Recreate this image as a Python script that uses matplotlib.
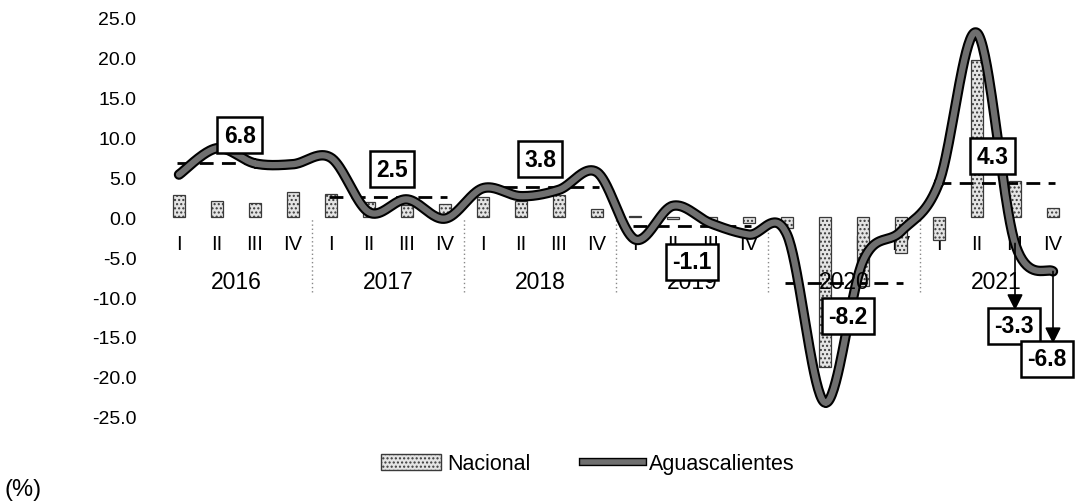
import numpy as np
import matplotlib
matplotlib.use('Agg')
import matplotlib.pyplot as plt
import matplotlib.patheffects as pe
from matplotlib.patches import Patch
from matplotlib.lines import Line2D

plt.rcParams['font.family'] = ['Liberation Sans', 'DejaVu Sans']
plt.rcParams['axes.unicode_minus'] = False
plt.rcParams['hatch.color'] = '#9a9a9a'

years = ['2016', '2017', '2018', '2019', '2020', '2021']
quarters = ['I', 'II', 'III', 'IV']
nacional = [2.8, 2.0, 1.7, 3.1,
            2.9, 1.9, 1.5, 1.6,
            2.5, 2.0, 2.8, 1.0,
            0.1, -0.3, -0.4, -0.7,
            -1.4, -18.7, -8.6, -4.5,
            -2.9, 19.6, 4.5, 1.1]
aguascalientes = [5.3, 8.6, 6.7, 6.6,
                  7.4, 0.6, 2.2, -0.2,
                  3.6, 2.6, 3.4, 5.6,
                  -2.8, 1.4, -0.8, -2.2,
                  -2.2, -23.2, -5.5, -1.8,
                  4.3, 23.0, -3.3, -6.8]
promedio_anual = [6.8, 2.5, 3.8, -1.1, -8.2, 4.3]
yticks = [25, 20, 15, 10, 5, 0, -5, -10, -15, -20, -25]


def smooth(x, y, n=40):
    # Catmull-Rom, like Excel's smoothed line
    p = np.column_stack([x, y]).astype(float)
    p = np.vstack([p[0], p, p[-1]])
    out = []
    for i in range(1, len(p) - 2):
        p0, p1, p2, p3 = p[i - 1], p[i], p[i + 1], p[i + 2]
        t = np.linspace(0, 1, n)[:, None]
        seg = 0.5 * ((2 * p1) + (-p0 + p2) * t +
                     (2 * p0 - 5 * p1 + 4 * p2 - p3) * t ** 2 +
                     (-p0 + 3 * p1 - 3 * p2 + p3) * t ** 3)
        out.append(seg)
    out = np.vstack(out)
    return out[:, 0], out[:, 1]


x = np.arange(len(nacional))

fig = plt.figure(figsize=(10.75, 5.02), dpi=100)
ax = fig.add_axes([160 / 1075, 1 - 418 / 502, (1072 - 160) / 1075, 400 / 502])

ax.bar(x, nacional, width=0.32, color='#e4e4e4', edgecolor='#3a3a3a',
       linewidth=0.9, hatch='....', zorder=2)

for k, v in enumerate(promedio_anual):
    ax.hlines(v, 4 * k - 0.05, 4 * k + 3.05, colors='black', linewidth=2,
              linestyles=(0, (5, 3)), zorder=3)

xs, ys = smooth(x, aguascalientes)
ax.plot(xs, ys, color='#6f6f6f', linewidth=4.5, solid_capstyle='round', zorder=4,
        path_effects=[pe.Stroke(linewidth=7.5, foreground='black'), pe.Normal()])

# year separators
for k in range(1, len(years)):
    ax.vlines(4 * k - 0.5, -9.4, 0, colors='#888888', linewidth=1,
              linestyles=(0, (1, 2)), zorder=1)

ax.set_xlim(-0.5, 23.5)
ax.set_ylim(-25, 25)
ax.set_yticks(yticks)
ax.set_yticklabels(['%.1f' % v for v in yticks])
ax.tick_params(axis='y', length=0, pad=17, labelsize=14)
ax.set_xticks(x)
ax.set_xticklabels(quarters * len(years))
ax.spines['bottom'].set_position(('data', 0))
for s in ax.spines.values():
    s.set_visible(False)
ax.tick_params(axis='x', length=0, pad=12, labelsize=14.5)

for k, yr in enumerate(years):
    ax.text(4 * k + 1.5, -8.0, yr, ha='center', va='center', fontsize=16.5, zorder=5)

box = dict(boxstyle='square,pad=0.28', facecolor='white', edgecolor='black', linewidth=1.8)
label_pos = [(1.6, 10.25), (5.6, 6.0), (9.5, 7.25), (13.5, -5.6), (17.6, -12.4), (21.4, 7.6)]
for (lx, ly), v in zip(label_pos, promedio_anual):
    ax.text(lx, ly, '%.1f' % v, ha='center', va='center', fontsize=16.5,
            fontweight='bold', bbox=box, zorder=6)

for i, (lx, ly) in zip([22, 23], [(21.97, -13.6), (22.84, -17.75)]):
    ax.annotate('', xy=(i, ly + 1.95), xytext=(i, aguascalientes[i]),
                arrowprops=dict(arrowstyle='-|>', color='black', lw=1.2,
                                mutation_scale=24, shrinkA=0, shrinkB=0),
                annotation_clip=False, zorder=6)
    ax.text(lx, ly, '%.1f' % aguascalientes[i], ha='center', va='center', fontsize=16.5,
            fontweight='bold', bbox=box, zorder=7, clip_on=False)

handles = [Patch(facecolor='#e4e4e4', edgecolor='#3a3a3a', hatch='....'),
           Line2D([0], [0], color='#6f6f6f', linewidth=4,
                  path_effects=[pe.Stroke(linewidth=6, foreground='black'), pe.Normal()])]
fig.legend(handles, ['Nacional', 'Aguascalientes'], loc='center', ncol=2,
           bbox_to_anchor=(588 / 1075, 1 - 465 / 502), frameon=False, fontsize=15.5,
           handlelength=2.8, handletextpad=0.3, columnspacing=2.4)

fig.text(5 / 1075, 1 - 490 / 502, '(%)', ha='left', va='center', fontsize=17)

fig.savefig('out.png', dpi=100)
